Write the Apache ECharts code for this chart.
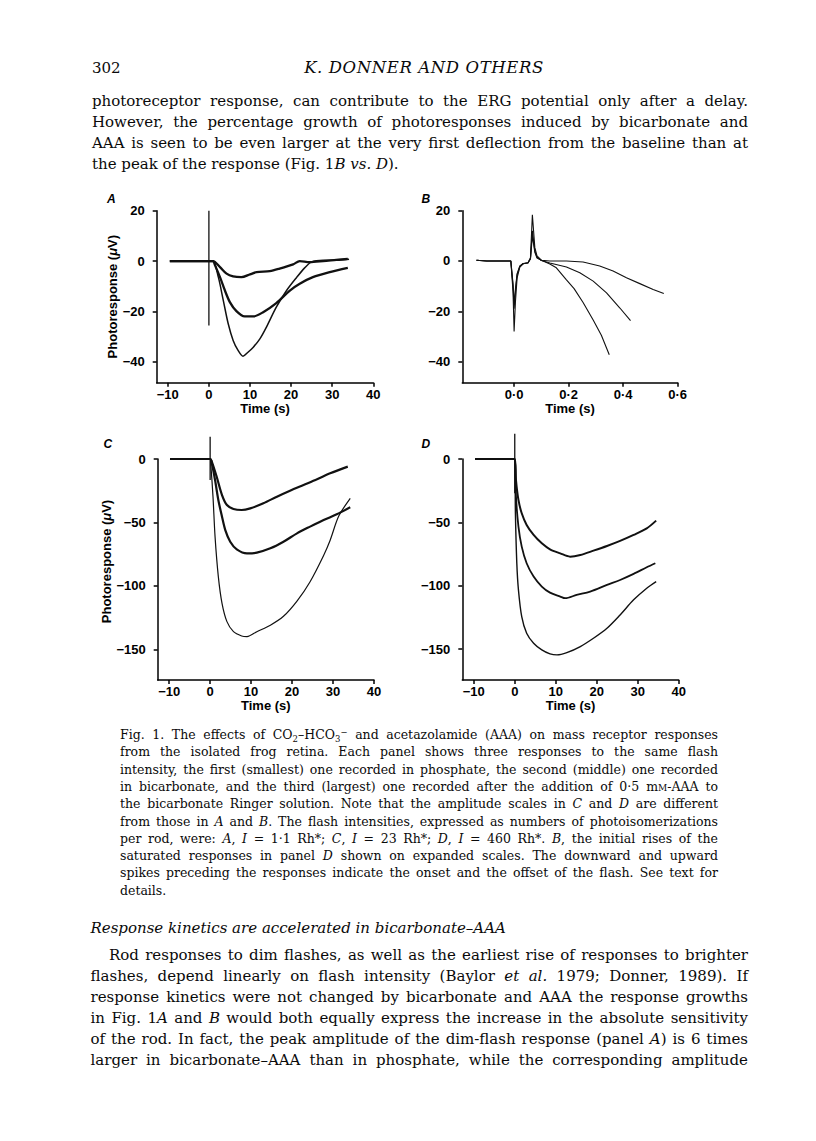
<!DOCTYPE html>
<html>
<head>
<meta charset="utf-8">
<script src="https://cdn.jsdelivr.net/npm/echarts@6.0.0/dist/echarts.min.js"></script>
<style>
  html, body { margin:0; padding:0; background:#fff; }
  body { width:816px; height:1141px; position:relative; overflow:hidden; }
  #chart { position:absolute; left:0; top:0; width:816px; height:1141px; }
  .ln { position:absolute; white-space:nowrap; line-height:1.2; color:#0a0a0a; font-family:"DejaVu Serif", serif; }
  .bl { display:inline-block; width:0; height:0; vertical-align:baseline; }
  .body { font-size:15px; }
  .head { font-size:16.5px; letter-spacing:0.6px; }
  .cap { font-size:12.5px; }
  .sb { font-size:.68em; position:relative; top:.32em; }
  .sp { font-size:.68em; position:relative; top:-.5em; }
  .sc { font-variant:small-caps; }
</style>
</head>
<body>
<div id="chart"></div>
<script>
// ---------------- data ----------------
const ticksTime   = [-10, 0, 10, 20, 30, 40];
const ticksTimeB  = [0, 0.2, 0.4, 0.6];
const ticksAmpAB  = [20, 0, -20, -40];
const ticksAmpCD  = [0, -50, -100, -150];

// Panel A (I = 1.1 Rh*)
const A_flash     = [[0, 20], [0, -25.6]];
const A_phosphate = [[-9.5,0],[-5,0],[0,0],[1,0],[2.7,-2.4],[4.3,-5],[5.9,-6.1],[7.9,-6.4],[10,-5.3],[11.6,-4.4],[14.8,-4],[17.2,-3],[20.5,-1.3],[22.1,0],[24.5,-0.4],[27.8,0],[31,0.5],[33.8,0.9]];
const A_bicarb    = [[-9.5,0],[0,0],[1,0],[1.5,-1.7],[2.7,-6.4],[3.9,-11.7],[5.1,-16.3],[6.7,-19.9],[8.7,-22],[10.8,-22],[13.2,-20.3],[16.4,-16.7],[19.7,-11.7],[22.1,-9],[25.3,-6.4],[29.4,-4.4],[33.8,-2.7]];
const A_aaa       = [[-9.5,0],[0,0],[1,0],[2.3,-6.4],[3.5,-15.6],[4.7,-24.9],[5.9,-31.5],[7.1,-35.5],[8.3,-37.8],[9.5,-36.2],[10.8,-34.2],[12.4,-30.9],[14,-26.2],[16.4,-18.3],[18.9,-11.7],[21.3,-6.6],[23.3,-2.7],[24.9,-0.4],[27.8,0.3],[31,0.3],[34.1,0.7]];

// Panel B (initial rises of panel D responses, expanded)
const B_phosphate = [[-0.138,0.3],[-0.1,0],[-0.012,0],[-0.004,-9],[0,-17],[0.005,-11],[0.011,-5],[0.021,-2],[0.033,-1],[0.051,-0.7],[0.06,0.8],[0.067,10],[0.076,3.5],[0.084,1.2],[0.1,0.3],[0.131,0],[0.192,0],[0.253,-0.4],[0.314,-2],[0.363,-4],[0.412,-6.7],[0.461,-9],[0.51,-11.3],[0.549,-12.9]];
const B_bicarb    = [[-0.138,0.3],[-0.1,0],[-0.012,0],[-0.004,-10],[0,-19],[0.005,-12],[0.011,-5.5],[0.021,-2.2],[0.033,-1.1],[0.051,-0.8],[0.06,1],[0.067,12],[0.076,4],[0.084,1.5],[0.1,0.2],[0.131,-0.8],[0.192,-2.4],[0.241,-4.7],[0.29,-8],[0.339,-12.7],[0.388,-18.7],[0.427,-23.7]];
const B_aaa       = [[-0.138,0.3],[-0.1,0],[-0.012,0],[-0.004,-12],[0,-28],[0.005,-16],[0.011,-6.7],[0.021,-2.4],[0.033,-1.1],[0.051,-0.7],[0.06,1.3],[0.067,18.4],[0.076,5.3],[0.084,2],[0.1,0.3],[0.131,-1.2],[0.155,-2.7],[0.192,-7.5],[0.22,-11],[0.253,-16.5],[0.29,-23.5],[0.32,-29.5],[0.349,-37.3]];

// Panel C (I = 23 Rh*)
const C_flash     = [[0, 17.6], [0, -16.6]];
const C_phosphate = [[-9.8,0],[-5,0],[0,0],[0.4,-2],[1.6,-14],[2.9,-28.4],[4.1,-36.3],[5.7,-39.4],[7.7,-40.2],[9.8,-38.9],[13,-34.9],[16.3,-29.7],[19.5,-25],[22.8,-20.5],[26.1,-16],[29.3,-11.3],[33.6,-6]];
const C_bicarb    = [[-9.8,0],[0,0],[0.4,-3.4],[1.2,-16.6],[2,-32.3],[2.9,-45.5],[3.7,-56],[4.9,-65.2],[6.5,-71.2],[9,-74.4],[11.4,-73.8],[14.7,-70.4],[17.9,-65.2],[21.2,-58.6],[24.4,-53.3],[27.7,-48.1],[30.9,-43.6],[34.2,-38.1]];
const C_aaa       = [[-9.8,0],[0,0],[0.2,-6],[0.7,-29.7],[1.2,-61.2],[2,-92.7],[2.9,-113.8],[4.1,-128.2],[5.7,-136.1],[7.7,-139.5],[9,-140],[11.4,-136.1],[14.7,-131],[17.9,-124],[21.2,-112],[24.4,-96.7],[27.7,-76],[29.3,-64],[31.4,-45],[34.2,-31]];

// Panel D (I = 460 Rh*)
const D_flash     = [[0, 20], [0, -27]];
const D_phosphate = [[-9.7,0],[-5,0],[0,0],[0.3,-16.6],[0.9,-32.3],[1.7,-42.8],[2.9,-52],[4.6,-59.9],[6.6,-66.5],[8.6,-71.2],[11.1,-74.4],[13.5,-77],[16,-75.7],[19.2,-72.3],[22.5,-68.6],[25.7,-64.6],[29,-59.9],[32.2,-54.7],[34.5,-48.6]];
const D_bicarb    = [[-9.7,0],[0,0],[0.3,-29.7],[0.9,-53.3],[1.7,-69.1],[2.9,-82.2],[4.6,-92.7],[6.6,-100.6],[8.6,-105.4],[11.1,-108.5],[12.3,-109.8],[15.1,-107.2],[18.4,-104.6],[22.5,-99.3],[25.7,-95.4],[29,-90.6],[32.2,-85.4],[34.3,-82.2]];
const D_aaa       = [[-9.7,0],[0,0],[0.16,-42.8],[0.5,-82.2],[0.9,-103.3],[1.7,-124.3],[2.9,-137.4],[4.6,-145.3],[6.6,-150.6],[8.6,-153.7],[10.3,-154.5],[12.7,-152.7],[16,-147.9],[19.2,-141.4],[22.5,-133.5],[25.7,-123],[29,-111.1],[32.2,-101.9],[34.5,-96.7]];

// ---------------- text lines ----------------
const bodyLines = [
  'photoreceptor response, can contribute to the ERG potential only after a delay.',
  'However, the percentage growth of photoresponses induced by bicarbonate and',
  'AAA is seen to be even larger at the very first deflection from the baseline than at',
  'the peak of the response (Fig. 1<i>B vs.</i> <i>D</i>).'
];
const captionLines = [
  'Fig. 1. The effects of CO<span class="sb">2</span>–HCO<span class="sb">3</span><span class="sp">−</span> and acetazolamide (AAA) on mass receptor responses',
  'from the isolated frog retina. Each panel shows three responses to the same flash',
  'intensity, the first (smallest) one recorded in phosphate, the second (middle) one recorded',
  'in bicarbonate, and the third (largest) one recorded after the addition of 0·5 m<span class="sc">m</span>-AAA to',
  'the bicarbonate Ringer solution. Note that the amplitude scales in <i>C</i> and <i>D</i> are different',
  'from those in <i>A</i> and <i>B</i>. The flash intensities, expressed as numbers of photoisomerizations',
  'per rod, were: <i>A</i>, <i>I</i> = 1·1 Rh*; <i>C</i>, <i>I</i> = 23 Rh*; <i>D</i>, <i>I</i> = 460 Rh*. <i>B</i>, the initial rises of the',
  'saturated responses in panel <i>D</i> shown on expanded scales. The downward and upward',
  'spikes preceding the responses indicate the onset and the offset of the flash. See text for',
  'details.'
];
const headingText = '<i>Response kinetics are accelerated in bicarbonate–AAA</i>';
const paraLines = [
  'Rod responses to dim flashes, as well as the earliest rise of responses to brighter',
  'flashes, depend linearly on flash intensity (Baylor <i>et al.</i> 1979; Donner, 1989). If',
  'response kinetics were not changed by bicarbonate and AAA the response growths',
  'in Fig. 1<i>A</i> and <i>B</i> would both equally express the increase in the absolute sensitivity',
  'of the rod. In fact, the peak amplitude of the dim-flash response (panel <i>A</i>) is 6 times',
  'larger in bicarbonate–AAA than in phosphate, while the corresponding amplitude'
];

// ---------------- text placement ----------------
function placeLine(html, cls, left, baseline, right, center) {
  const d = document.createElement('div');
  d.className = 'ln ' + cls;
  d.style.left = left + 'px';
  d.style.top = '0px';
  d.innerHTML = '<span class="t">' + html + '</span><span class="bl"></span>';
  document.body.appendChild(d);
  const t = d.querySelector('.t');
  if (right) {
    const w = t.getBoundingClientRect().width;
    const n = (t.textContent.match(/ /g) || []).length;
    if (n) t.style.wordSpacing = ((right - left - w) / n) + 'px';
  }
  if (center) {
    const w = t.getBoundingClientRect().width;
    d.style.left = (center - w / 2) + 'px';
  }
  const b = d.querySelector('.bl').getBoundingClientRect().bottom;
  d.style.top = (baseline - b) + 'px';
}

placeLine('302', 'body', 92, 73);
placeLine('<i>K. DONNER AND OTHERS</i>', 'head', 0, 73, null, 424);
bodyLines.forEach((s, i) => placeLine(s, 'body', 92, 106 + i * 21, i < bodyLines.length - 1 ? 748 : null));
captionLines.forEach((s, i) => placeLine(s, 'cap', 120, 739 + i * 17.3, i < captionLines.length - 1 ? 718 : null));
placeLine(headingText, 'body', 90.5, 933);
paraLines.forEach((s, i) => placeLine(s, 'body', i === 0 ? 109 : 90.5, 960 + i * 21, 748));

// ---------------- chart ----------------
const chart = echarts.init(document.getElementById('chart'), null, { renderer: 'svg' });
const FONT = '"Liberation Sans", Arial, sans-serif';
const INK = '#111';
const axLine = { color: '#000', width: 1.5 };
const fmtInt = v => String(v).replace('-', '−');
const fmtB = v => Number(v).toFixed(1).replace('.', '·');

function xAxis(grid, min, max, ticks, fmt) {
  return {
    type: 'value', gridIndex: grid, min, max,
    axisLine: { show: true, onZero: false, lineStyle: axLine },
    axisTick: { show: true, length: 4, inside: false, lineStyle: axLine, customValues: ticks },
    axisLabel: { customValues: ticks, formatter: fmt, fontFamily: FONT, fontWeight: 'bold', fontSize: 13, color: '#000', margin: 5 },
    splitLine: { show: false },
    name: 'Time (s)', nameLocation: 'middle', nameGap: 19,
    nameTextStyle: { fontFamily: FONT, fontWeight: 'bold', fontSize: 13, color: '#000' }
  };
}
function yAxis(grid, min, max, ticks, withName, namePad) {
  const ax = {
    type: 'value', gridIndex: grid, min, max, position: 'left',
    axisLine: { show: true, onZero: false, lineStyle: axLine },
    axisTick: { show: true, length: 4, inside: false, lineStyle: axLine, customValues: ticks },
    axisLabel: { customValues: ticks, formatter: fmtInt, fontFamily: FONT, fontWeight: 'bold', fontSize: 13, color: '#000', margin: 12 },
    splitLine: { show: false }
  };
  if (withName) {
    ax.name = 'Photoresponse ({m|μ}V)';
    ax.nameLocation = 'middle';
    ax.nameGap = 37;
    ax.nameRotate = 90;
    ax.nameTextStyle = {
      fontFamily: FONT, fontWeight: 'bold', fontSize: 13, color: '#000',
      padding: namePad || 0,
      rich: { m: { fontFamily: FONT, fontWeight: 'bold', fontStyle: 'italic', fontSize: 13, color: '#000' } }
    };
  }
  return ax;
}
function trace(grid, data, width, smooth) {
  return {
    type: 'line', xAxisIndex: grid, yAxisIndex: grid, data,
    showSymbol: false, symbol: 'none', smooth: smooth === undefined ? 0.3 : smooth,
    lineStyle: { color: INK, width }, clip: false, silent: true, animation: false
  };
}
function flash(grid, data) {
  return { type: 'line', xAxisIndex: grid, yAxisIndex: grid, data, showSymbol: false, symbol: 'none',
    lineStyle: { color: INK, width: 1.3 }, clip: false, silent: true, animation: false };
}

const LETTER_FONT = 'italic bold 12px "Liberation Sans", Arial, sans-serif';
const option = {
  animation: false,
  backgroundColor: 'transparent',
  grid: [
    { left: 156.7, top: 210.7, width: 216.6, height: 172 },
    { left: 462.3, top: 210.7, width: 215.4, height: 172 },
    { left: 157.7, top: 459,   width: 216.3, height: 221 },
    { left: 462.3, top: 459,   width: 216.4, height: 221 }
  ],
  xAxis: [
    xAxis(0, -12.7, 40, ticksTime, fmtInt),
    xAxis(1, -0.19, 0.6, ticksTimeB, fmtB),
    xAxis(2, -12.8, 40, ticksTime, fmtInt),
    xAxis(3, -12.8, 40, ticksTime, fmtInt)
  ],
  yAxis: [
    yAxis(0, -48.3, 20, ticksAmpAB, true),
    yAxis(1, -48.4, 20, ticksAmpAB, false),
    yAxis(2, -174.2, 0, ticksAmpCD, true, [0, 0, 0, 16]),
    yAxis(3, -174.3, 0, ticksAmpCD, false)
  ],
  series: [
    flash(0, A_flash),
    trace(0, A_phosphate, 2.3), trace(0, A_bicarb, 2.3), trace(0, A_aaa, 1.5),
    trace(1, B_phosphate, 1.1, false), trace(1, B_bicarb, 1.1, false), trace(1, B_aaa, 1.1, false),
    flash(2, C_flash),
    trace(2, C_phosphate, 2.2), trace(2, C_bicarb, 2.2), trace(2, C_aaa, 1.2),
    flash(3, D_flash),
    trace(3, D_phosphate, 2.0), trace(3, D_bicarb, 1.8), trace(3, D_aaa, 1.4)
  ],
  graphic: [
    { type: 'text', x: 107, y: 193, style: { text: 'A', font: LETTER_FONT, fill: '#000' } },
    { type: 'text', x: 421.5, y: 193, style: { text: 'B', font: LETTER_FONT, fill: '#000' } },
    { type: 'text', x: 103.5, y: 438, style: { text: 'C', font: LETTER_FONT, fill: '#000' } },
    { type: 'text', x: 421.5, y: 438, style: { text: 'D', font: LETTER_FONT, fill: '#000' } }
  ]
};
chart.setOption(option);
</script>
</body>
</html>
